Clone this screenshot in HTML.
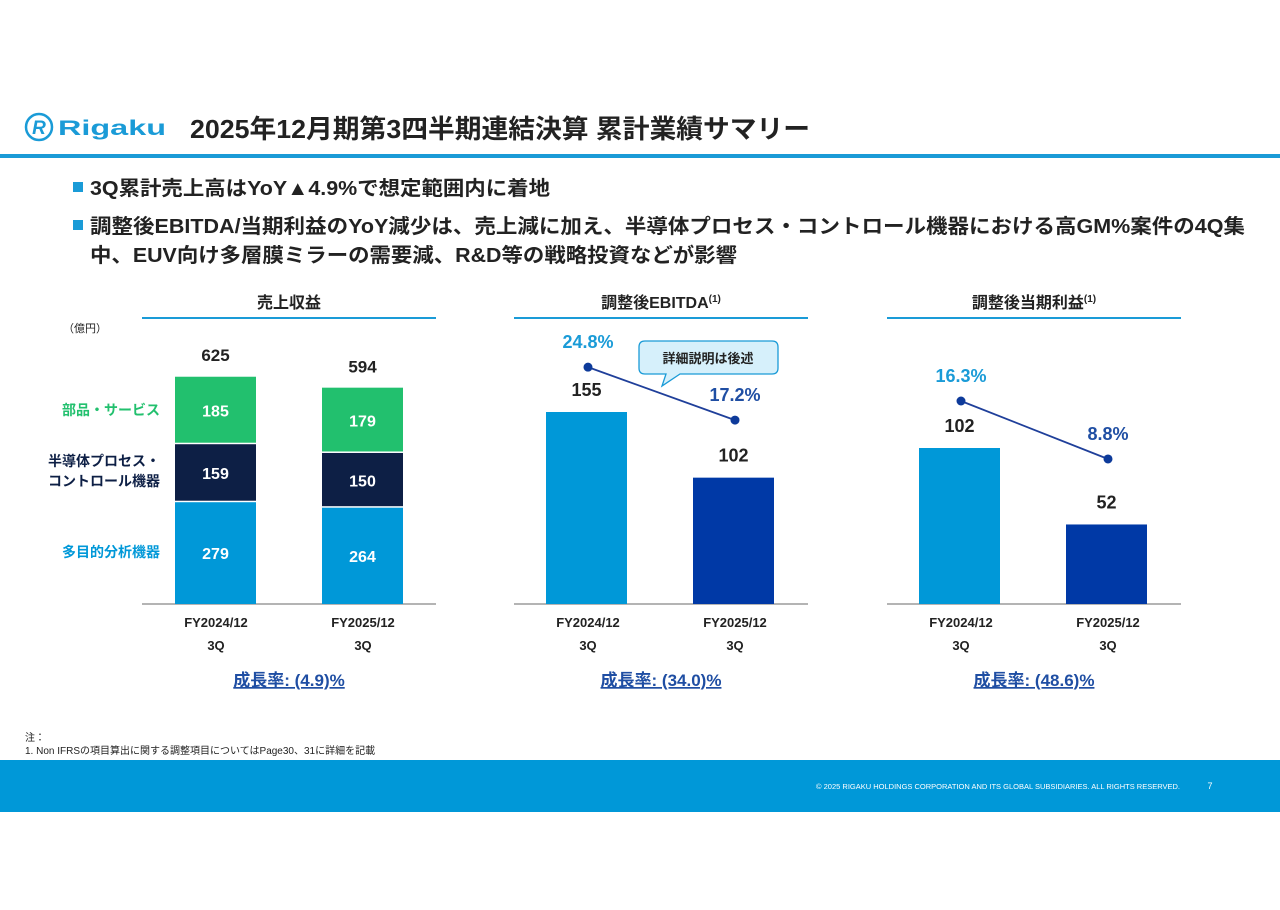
<!DOCTYPE html>
<html><head><meta charset="utf-8"><style>
body{margin:0;width:1280px;height:905px;background:#fff;overflow:hidden;font-family:"Liberation Sans","Noto Sans CJK JP",sans-serif}
svg text{font-family:"Liberation Sans","Noto Sans CJK JP",sans-serif}
</style></head><body>
<svg id="s" width="1280" height="905" xmlns="http://www.w3.org/2000/svg">
<g>
<circle cx="39" cy="127" r="13" fill="none" stroke="#1a9bd7" stroke-width="2.5"/>
<text x="39" y="134" text-anchor="middle" font-size="19" font-weight="bold" font-style="italic" fill="#1a9bd7">R</text>
<text x="58" y="135" font-size="21" font-weight="bold" fill="#1a9bd7" textLength="108" lengthAdjust="spacingAndGlyphs">Rigaku</text>
</g>
<text x="190" y="138" font-size="26" font-weight="bold" fill="#222" textLength="620" lengthAdjust="spacingAndGlyphs">2025年12月期第3四半期連結決算 累計業績サマリー</text>
<rect x="0" y="154" width="1280" height="4" fill="#1a9bd7"/>
<g font-size="20" font-weight="bold" fill="#222">
<rect x="73" y="182" width="10" height="10" fill="#1a9bd7"/>
<text x="90" y="195" textLength="460" lengthAdjust="spacingAndGlyphs">3Q累計売上高はYoY▲4.9%で想定範囲内に着地</text>
<rect x="73" y="220" width="10" height="10" fill="#1a9bd7"/>
<text x="90" y="233" textLength="1155" lengthAdjust="spacingAndGlyphs">調整後EBITDA/当期利益のYoY減少は、売上減に加え、半導体プロセス・コントロール機器における高GM%案件の4Q集</text>
<text x="90" y="262" textLength="647" lengthAdjust="spacingAndGlyphs">中、EUV向け多層膜ミラーの需要減、R&amp;D等の戦略投資などが影響</text>
</g>
<g id="charts"></g>
<g font-size="10" fill="#222">
<text x="25" y="741">注：</text>
<text x="25" y="754">1. Non IFRSの項目算出に関する調整項目についてはPage30、31に詳細を記載</text>
</g>
<rect x="0" y="760" width="1280" height="52" fill="#0098d8"/>
<text x="1180" y="789" text-anchor="end" font-size="7.5" fill="#fff">© 2025 RIGAKU HOLDINGS CORPORATION AND ITS GLOBAL SUBSIDIARIES. ALL RIGHTS RESERVED.</text>
<text x="1210" y="789" text-anchor="middle" font-size="9" fill="#fff">7</text>
</svg>
<script>
const categories=["FY2024/12","FY2025/12"];
const analytical=[279,264];
const semicon=[159,150];
const parts=[185,179];
const revenueTotal=[625,594];
const ebitda=[155,102];
const ebitdaMargin=[24.8,17.2];
const netIncome=[102,52];
const netMargin=[16.3,8.8];
const growthLabels=["成長率: (4.9)%","成長率: (34.0)%","成長率: (48.6)%"];

const NS="http://www.w3.org/2000/svg";
const root=document.getElementById('charts');
function mk(tag,attrs,parent,txt){const e=document.createElementNS(NS,tag);for(const k in attrs)e.setAttribute(k,attrs[k]);if(txt!==undefined)e.textContent=txt;(parent||root).appendChild(e);return e;}
const BASE=604;
function frame(x0,title,sup,idx){
  const g=mk('g',{});
  
  
  const t=mk('text',{x:x0+147,y:308,'text-anchor':'middle','font-size':16,'font-weight':'bold',fill:'#222'},g,title);
  
  
  if(sup){mk('tspan',{'font-size':10,dy:-6},t,sup);}
  mk('rect',{x:x0,y:317,width:294,height:2,fill:'#1a9bd7'},g);
  const ax=mk('line',{x1:x0,x2:x0+294,y1:BASE,y2:BASE,stroke:'#888','stroke-width':1.2},g);
  
  
  categories.forEach((c,i)=>{
    const cx=x0+74+i*147;
    const l=mk('text',{x:cx,y:627,'text-anchor':'middle','font-size':13,'font-weight':'bold',fill:'#222'},g,c);
    
    
    mk('text',{x:cx,y:650,'text-anchor':'middle','font-size':13,'font-weight':'bold',fill:'#222'},g,'3Q');
  });
  const gr=mk('text',{x:x0+147,y:686,'text-anchor':'middle','font-size':17,'font-weight':'bold',fill:'#1f4ea3','text-decoration':'underline'},g,growthLabels[idx]);
  
  
  return g;
}
(function(){
  const x0=142,g=frame(x0,'売上収益',null,0),k=228/625;
  mk('text',{x:85,y:332,'text-anchor':'middle','font-size':11,fill:'#222'},g,'（億円）');
  const series=[[analytical,'#0098d8'],[semicon,'#0d1f45'],[parts,'#22c06e']];
  categories.forEach((c,i)=>{
    const bx=x0+33+i*147;let acc=0;
    series.forEach(([arr,col],si)=>{
      const y1=BASE-acc*k,y0=BASE-(acc+arr[i])*k;
      const r=mk('rect',{x:bx,y:y0,width:81,height:(y1-y0)-(si>0?1.5:0),fill:col},g);
      
      
      mk('text',{x:bx+40.5,y:(y0+y1)/2+6,'text-anchor':'middle','font-size':16,'font-weight':'bold',fill:'#fff'},g,arr[i]);
      acc+=arr[i];
    });
    const tl=mk('text',{x:bx+40.5,y:BASE-revenueTotal[i]*k-15,'text-anchor':'middle','font-size':17,'font-weight':'bold',fill:'#222'},g,revenueTotal[i]);
    
    
  });
  const lg=[['部品・サービス','#22c06e',415],['半導体プロセス・','#0d1f45',466],['コントロール機器','#0d1f45',486],['多目的分析機器','#0098d8',557]];
  lg.forEach(([t,c,y])=>{const e=mk('text',{x:160,y:y,'text-anchor':'end','font-size':14,'font-weight':'bold',fill:c},g,t);
    
    });
})();
function barLine(x0,idx,title,vals,k,margins,pk,pBase,pColors){
  const g=frame(x0,title,'(1)',idx);
  const cols=['#0098d8','#0039a6'];const pts=[];
  categories.forEach((c,i)=>{
    const bx=x0+32+i*147,h=vals[i]*k;
    const r=mk('rect',{x:bx,y:BASE-h,width:81,height:h,fill:cols[i]},g);
    
    
    mk('text',{x:bx+40.5,y:BASE-h-16,'text-anchor':'middle','font-size':18,'font-weight':'bold',fill:'#222'},g,vals[i]);
    pts.push([x0+74+i*147,pBase-margins[i]*pk]);
  });
  const ln=mk('line',{x1:pts[0][0],y1:pts[0][1],x2:pts[1][0],y2:pts[1][1],stroke:'#1f3f9a','stroke-width':1.8},g);
  
  
  pts.forEach((p,i)=>{
    const d=mk('circle',{cx:p[0],cy:p[1],r:4.5,fill:'#0d3a9a'},g);
    
    
    mk('text',{x:p[0],y:p[1]-19,'text-anchor':'middle','font-size':18,'font-weight':'bold',fill:pColors[i]},g,margins[i].toFixed(1)+'%');
  });
  return g;
}
const g2=barLine(514,1,'調整後EBITDA',ebitda,192/155,ebitdaMargin,6.97,540,['#1a9bd7','#1f4ea3']);
const call=mk('g',{},g2);


mk('path',{d:'M645 341 H772 Q778 341 778 347 V368 Q778 374 772 374 H680 L662 386 L666 374 H645 Q639 374 639 368 V347 Q639 341 645 341Z',fill:'#d6f0fb',stroke:'#1a9bd7','stroke-width':1.3},call);
mk('text',{x:708,y:363,'text-anchor':'middle','font-size':13,'font-weight':'bold',fill:'#222'},call,'詳細説明は後述');
barLine(887,2,'調整後当期利益',netIncome,156/102,netMargin,7.73,527,['#1a9bd7','#1f4ea3']);
</script>
</body></html>
